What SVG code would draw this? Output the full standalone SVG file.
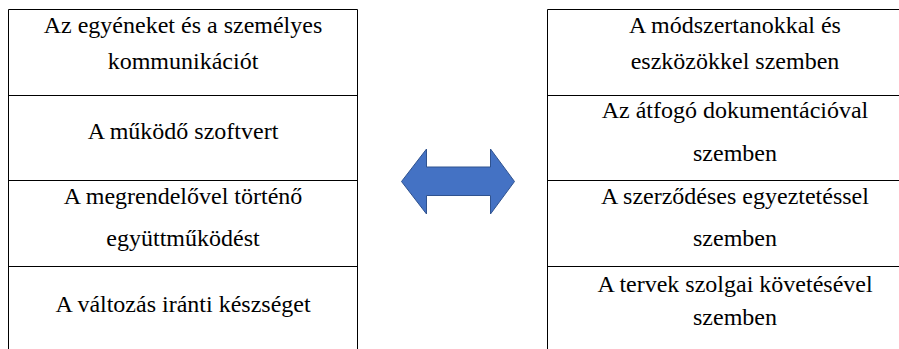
<svg xmlns="http://www.w3.org/2000/svg" width="899" height="349" viewBox="0 0 899 349">
  <style>
    .grid { stroke: #000; stroke-width: 1; fill: none; }
    .cell { font-family: 'Liberation Serif', 'Times New Roman', serif; font-size: 24px; fill: #000; text-anchor: middle; }
    .block-arrow { fill: #4472C4; stroke: #2F528F; stroke-width: 1; stroke-linejoin: miter; }
  </style>
  <rect width="899" height="349" fill="#fff"/>

  <!-- Left table: values preferred -->
  <g id="left-table">
    <path class="grid" d="M8.5 349 V9.5 H357.5 V349 M8.5 95.5 H357.5 M8.5 180.5 H357.5 M8.5 266.5 H357.5"/>
    <g id="left-row-1">
      <text class="cell" x="183" y="33">Az egyéneket és a személyes</text>
      <text class="cell" x="183" y="68.5">kommunikációt</text>
    </g>
    <g id="left-row-2">
      <text class="cell" x="183" y="139">A működő szoftvert</text>
    </g>
    <g id="left-row-3">
      <text class="cell" x="183" y="204">A megrendelővel történő</text>
      <text class="cell" x="183" y="245.5">együttműködést</text>
    </g>
    <g id="left-row-4">
      <text class="cell" x="183" y="311.5">A változás iránti készséget</text>
    </g>
  </g>

  <!-- Right table: values they are weighed against -->
  <g id="right-table">
    <path class="grid" d="M547.5 349 V9.5 H899 M547.5 95.5 H899 M547.5 180.5 H899 M547.5 266.5 H899"/>
    <g id="right-row-1">
      <text class="cell" x="735" y="33">A módszertanokkal és</text>
      <text class="cell" x="735" y="69">eszközökkel szemben</text>
    </g>
    <g id="right-row-2">
      <text class="cell" x="735" y="118">Az átfogó dokumentációval</text>
      <text class="cell" x="735" y="161">szemben</text>
    </g>
    <g id="right-row-3">
      <text class="cell" x="735" y="204">A szerződéses egyeztetéssel</text>
      <text class="cell" x="735" y="246">szemben</text>
    </g>
    <g id="right-row-4">
      <text class="cell" x="735" y="292">A tervek szolgai követésével</text>
      <text class="cell" x="735" y="325">szemben</text>
    </g>
  </g>

  <!-- Double-headed block arrow between the two tables -->
  <g id="connectors">
    <polygon class="block-arrow" points="401.5,181.5 426.5,149 426.5,167 490.5,167 490.5,149 514.5,181.5 490.5,214 490.5,195.5 426.5,195.5 426.5,214"/>
  </g>
</svg>
